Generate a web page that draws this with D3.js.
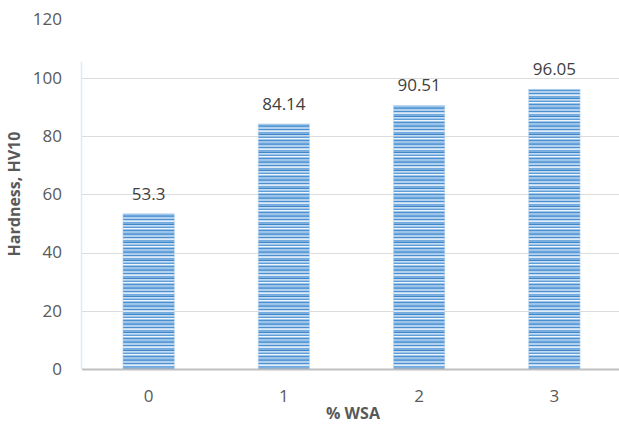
<!DOCTYPE html>
<html>
<head>
<meta charset="utf-8">
<script src="https://cdn.jsdelivr.net/npm/d3@7"></script>
<style>
  body { margin: 0; background: #fff; }
  text { font-family: "Open Sans", "Liberation Sans", sans-serif; fill: #595959; }
</style>
</head>
<body>
<main></main>
<script>
//Hardness bar chart with D3

//Data
const wsa = ["0", "1", "2", "3"];
const hardness = [53.3, 84.14, 90.51, 96.05];
const hardnessLabels = ["53.3", "84.14", "90.51", "96.05"];
const yTicks = [0, 20, 40, 60, 80, 100, 120];

//Parameters
const w = 619;
const h = 425;

const svg = d3.select("main")
  .append("svg")
  .attr("width", w)
  .attr("height", h);

//Stripe pattern for bars
const stripes = ["#5b9bd5", "#b3d1ee", "#4a8fd0", "#deebf7", "#73abdf", "#3f88cc", "#c4dcf2", "#5d9ed8", "#eef5fb", "#4b91d2", "#9cc4ea", "#6aa6dc"];
const pat = svg.append("defs")
  .append("pattern")
  .attr("id", "stripes")
  .attr("patternUnits", "userSpaceOnUse")
  .attr("width", 10)
  .attr("height", stripes.length * 1.5);
stripes.forEach((c, i) => {
  pat.append("rect")
    .attr("x", 0)
    .attr("y", i * 1.5)
    .attr("width", 10)
    .attr("height", 1.5)
    .attr("fill", c);
});

//Scales
const x = d3.scaleBand()
  .domain(wsa)
  .range([81, 622])
  .paddingInner(0.62)
  .paddingOuter(0.31);

const y = d3.scaleLinear()
  .domain([0, 120])
  .range([369, 19.5]);

//Gridlines
svg.append("g")
  .selectAll("line")
  .data(yTicks.filter(d => d > 0 && d <= 100))
  .enter()
  .append("line")
  .attr("x1", 82)
  .attr("x2", w)
  .attr("y1", d => Math.round(y(d)) + 0.5)
  .attr("y2", d => Math.round(y(d)) + 0.5)
  .attr("stroke", "#dcdcdc")
  .attr("stroke-width", 1);

//Vertical axis line
svg.append("line")
  .attr("x1", 81.5)
  .attr("x2", 81.5)
  .attr("y1", y(105.5))
  .attr("y2", y(0))
  .attr("stroke", "#ddeaf6")
  .attr("stroke-width", 1.5);

//Y tick labels
svg.append("g")
  .selectAll("text")
  .data(yTicks)
  .enter()
  .append("text")
  .attr("x", 62)
  .attr("y", d => y(d))
  .attr("dy", "0.35em")
  .attr("text-anchor", "end")
  .attr("font-size", "17px")
  .text(d => d);

//Bars
svg.append("g")
  .selectAll("rect")
  .data(hardness)
  .enter()
  .append("rect")
  .attr("x", (d, i) => x(wsa[i]))
  .attr("y", d => y(d))
  .attr("width", x.bandwidth())
  .attr("height", d => y(0) - y(d))
  .attr("fill", "url(#stripes)")
  .attr("stroke", "#bcd6ef")
  .attr("stroke-width", 0.6);

//Baseline
svg.append("line")
  .attr("x1", 82)
  .attr("x2", w)
  .attr("y1", y(0) + 0.5)
  .attr("y2", y(0) + 0.5)
  .attr("stroke", "#bfbfbf")
  .attr("stroke-width", 2);

//Value labels
svg.append("g")
  .selectAll("text")
  .data(hardness)
  .enter()
  .append("text")
  .attr("x", (d, i) => x(wsa[i]) + x.bandwidth() / 2)
  .attr("y", d => y(d) - 14)
  .attr("text-anchor", "middle")
  .attr("font-size", "17px")
  .style("fill", "#404040")
  .text((d, i) => hardnessLabels[i]);

//X tick labels
svg.append("g")
  .selectAll("text")
  .data(wsa)
  .enter()
  .append("text")
  .attr("x", d => x(d) + x.bandwidth() / 2)
  .attr("y", 396)
  .attr("dy", "0.35em")
  .attr("text-anchor", "middle")
  .attr("font-size", "17px")
  .text(d => d);

//Axis titles
svg.append("text")
  .attr("x", 353)
  .attr("y", 413)
  .attr("dy", "0.35em")
  .attr("text-anchor", "middle")
  .attr("font-size", "16px")
  .attr("font-weight", "bold")
  .text("% WSA");

svg.append("text")
  .attr("transform", "translate(14,194) rotate(-90)")
  .attr("dy", "0.35em")
  .attr("text-anchor", "middle")
  .attr("font-size", "16px")
  .attr("font-weight", "bold")
  .text("Hardness, HV10");
</script>
</body>
</html>
